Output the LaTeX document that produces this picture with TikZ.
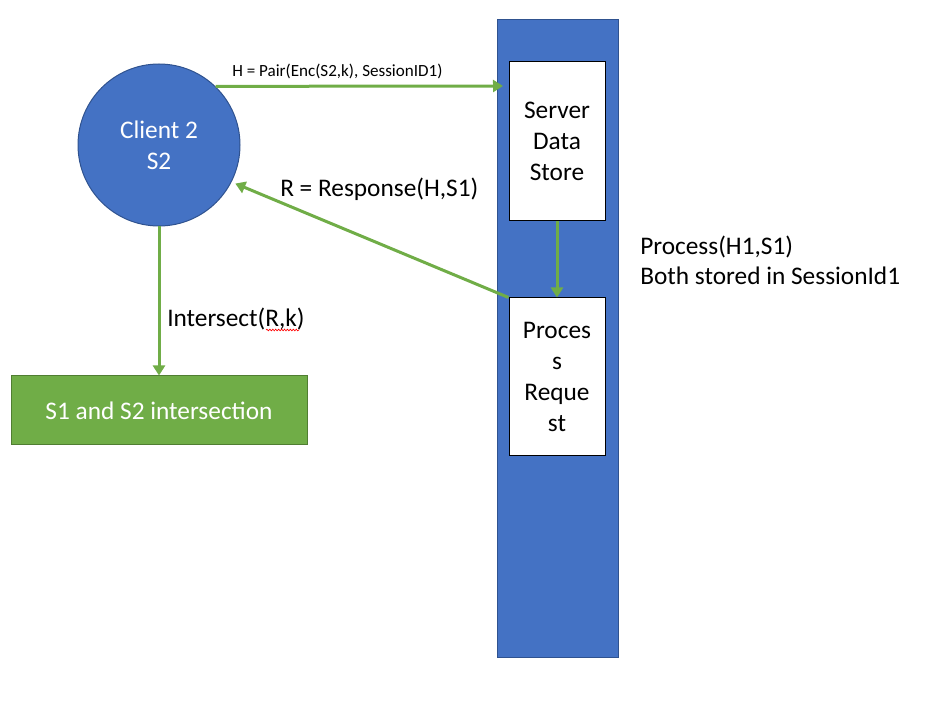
\documentclass[tikz,border=0pt]{standalone}
\usepackage{fontspec}
\setmainfont{Carlito}
\usetikzlibrary{arrows.meta,decorations.pathmorphing}
\definecolor{pptblue}{HTML}{4472C4}
\definecolor{pptblueline}{HTML}{2F528F}
\definecolor{pptgreen}{HTML}{70AD47}
\definecolor{pptgreenline}{HTML}{507E32}
\begin{document}
\begin{tikzpicture}[x=0.75pt,y=-0.75pt,
  arr/.style={draw=pptgreen, line width=2.25pt, -{Triangle[length=7.5pt,width=9pt]}},
  whitebox/.style={draw=black, line width=0.75pt, fill=white, minimum width=72pt, align=center, font=\fontsize{19}{23.3}\selectfont, inner sep=0pt},
  lbl/.style={font=\fontsize{19}{22.5}\selectfont, inner sep=0pt, anchor=base west, align=left},
  smalllbl/.style={font=\fontsize{12.8}{15}\selectfont, inner sep=0pt, anchor=base west},
]
\useasboundingbox (0,0) rectangle (933,702);
\node[draw=pptblueline, fill=pptblue, line width=0.75pt, minimum width=90.75pt, minimum height=477.75pt, inner sep=0pt] (server) at (557.5,338.5) {};
\node[whitebox, minimum height=119.25pt] (sds) at (557,141.5) {Server\\Data\\Store};
\node[whitebox, minimum height=118.5pt] (pr) at (557,377) {Proces\\s\\Reque\\st};
\node[circle, draw=pptblueline, fill=pptblue, line width=0.75pt, minimum size=121.5pt, inner sep=0pt, text=white, align=center, font=\fontsize{19}{23.3}\selectfont] (client) at (159,145) {Client 2\\S2};
\node[draw=pptgreenline, fill=pptgreen, line width=0.75pt, minimum width=222pt, minimum height=51.75pt, inner sep=0pt, text=white, font=\fontsize{19}{23}\selectfont] (inter) at (159,410.5) {S1 and S2 intersection};

\coordinate (htip) at (503,86);
\draw[arr] (client.46.5) -- (htip);
\node[smalllbl] (hlbl) at (232,77) {H = Pair(Enc(S2,k), SessionID1)};

\draw[arr, shorten >=3pt] (pr.north west) -- (client.-27);
\node[lbl] (rlbl) at (280,197) {R = Response(H,S1)};

\draw[arr] (sds.south) -- (pr.north);
\draw[arr] (client.south) -- (inter.north);

\node[lbl] (ilbl) at (167,327) {Intersect(R,k)};
\coordinate (sq1) at (266,330);
\coordinate (sq2) at (299,330);
\draw[red, line width=0.5pt, decorate, decoration={snake, amplitude=0.6pt, segment length=2.2pt}] (sq1) -- (sq2);

\node[lbl] (plbl) at (640,285) {Process(H1,S1)\\Both stored in SessionId1};
\end{tikzpicture}
\end{document}
